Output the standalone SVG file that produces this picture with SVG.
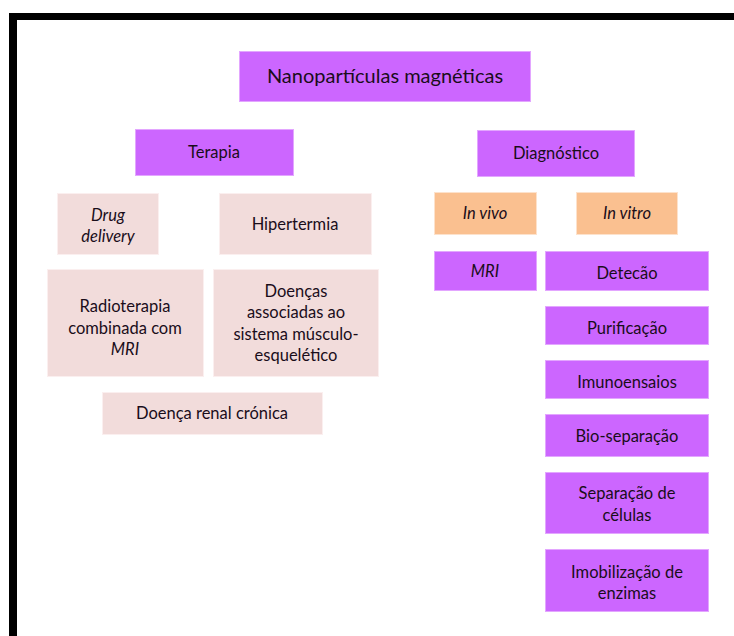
<svg xmlns="http://www.w3.org/2000/svg" width="734" height="636" viewBox="0 0 734 636">
<style>
text{font-family:Lato,"Open Sans","Liberation Sans",sans-serif;font-size:16.5px;fill:#1a0d1a;text-anchor:middle}
.t{font-size:20px}
.i{font-style:italic}
.p{fill:#cc66ff;stroke:#e3a6ff;stroke-width:1}
.k{fill:#f2dcdb;stroke:#fbefef;stroke-width:1}
.o{fill:#fac090;stroke:#fde2cc;stroke-width:1}
</style>
<rect x="0" y="0" width="734" height="636" fill="#ffffff"/>
<g id="frame">
<rect x="9" y="13" width="725" height="7" fill="#000"/>
<rect x="9" y="13" width="8" height="623" fill="#000"/>
</g>
<g id="connectors"></g>
<g id="root"><rect class="p" x="239.5" y="51.5" width="291" height="50"/><text class="t" x="385" y="83">Nanopartículas magnéticas</text></g>
<g id="terapia"><rect class="p" x="135.5" y="129.5" width="158" height="46"/><text x="214" y="158">Terapia</text></g>
<g id="diagnostico"><rect class="p" x="477.5" y="130.5" width="157" height="46"/><text x="556" y="159">Diagnóstico</text></g>
<g id="drug"><rect class="k" x="57.5" y="193.5" width="101" height="61"/><text class="i" x="108" y="221">Drug</text><text class="i" x="108" y="242">delivery</text></g>
<g id="hipertermia"><rect class="k" x="219.5" y="193.5" width="152" height="61"/><text x="295" y="230">Hipertermia</text></g>
<g id="radioterapia"><rect class="k" x="47.5" y="269.5" width="156" height="107"/><text x="125" y="312">Radioterapia</text><text x="125" y="334">combinada com</text><text class="i" x="125" y="355">MRI</text></g>
<g id="doencas"><rect class="k" x="213.5" y="269.5" width="165" height="107"/><text x="296" y="297">Doenças</text><text x="296" y="318">associadas ao</text><text x="296" y="340">sistema músculo-</text><text x="296" y="361">esquelético</text></g>
<g id="renal"><rect class="k" x="102.5" y="392.5" width="220" height="42"/><text x="212" y="419">Doença renal crónica</text></g>
<g id="invivo"><rect class="o" x="434.5" y="192.5" width="102" height="42"/><text class="i" x="485" y="219">In vivo</text></g>
<g id="invitro"><rect class="o" x="576.5" y="192.5" width="101" height="42"/><text class="i" x="627" y="219">In vitro</text></g>
<g id="mri"><rect class="p" x="434.5" y="251.5" width="102" height="39"/><text class="i" x="485" y="277">MRI</text></g>
<g id="detecao"><rect class="p" x="545.5" y="251.5" width="163" height="39"/><text x="627" y="279">Detecão</text></g>
<g id="purificacao"><rect class="p" x="545.5" y="306.5" width="163" height="38"/><text x="627" y="334">Purificação</text></g>
<g id="imunoensaios"><rect class="p" x="545.5" y="360.5" width="163" height="38"/><text x="627" y="388">Imunoensaios</text></g>
<g id="bioseparacao"><rect class="p" x="545.5" y="414.5" width="163" height="42"/><text x="627" y="442">Bio-separação</text></g>
<g id="separacao"><rect class="p" x="545.5" y="472.5" width="163" height="61"/><text x="627" y="499">Separação de</text><text x="627" y="521">células</text></g>
<g id="imobilizacao"><rect class="p" x="545.5" y="549.5" width="163" height="62"/><text x="627" y="578">Imobilização de</text><text x="627" y="599">enzimas</text></g>
</svg>
